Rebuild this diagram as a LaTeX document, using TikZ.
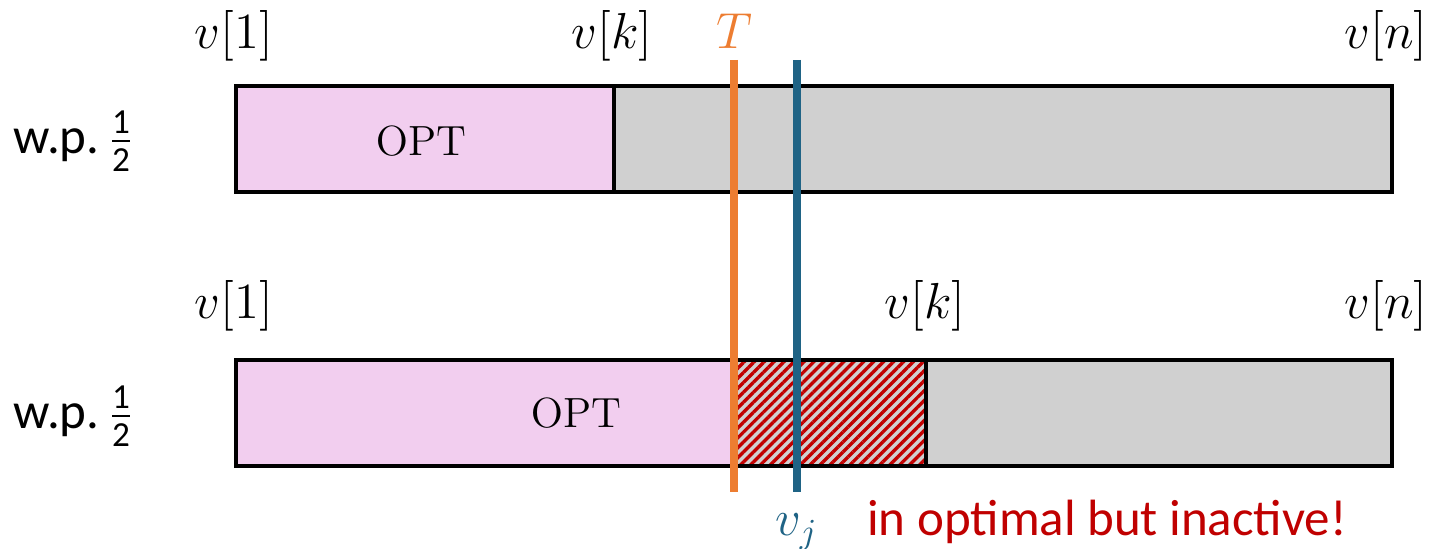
\documentclass[tikz,border=0pt]{standalone}
\usepackage[no-math]{fontspec}
\setmainfont{Carlito}
\usepackage{xcolor}
\usetikzlibrary{patterns.meta,positioning}
\definecolor{optpink}{HTML}{F2CEEF}
\definecolor{restgray}{HTML}{D0D0D0}
\definecolor{cutorange}{HTML}{ED7D31}
\definecolor{itemblue}{HTML}{1F6385}
\definecolor{warnred}{HTML}{C00000}
\newcommand{\half}{${\frac{\mbox{\fontsize{10}{10}\selectfont 1}}{\mbox{\fontsize{10}{10}\selectfont 2}}}$}

\begin{document}
\begin{tikzpicture}[
  x=0.01cm,y=-0.01cm,
  bar/.style={draw=black,line width=0.9pt},
  mark line/.style={line width=2pt},
  idx/.style={font=\fontsize{14}{16}\selectfont,inner sep=1pt},
  prob/.style={font=\fontsize{14.5}{17}\selectfont,inner sep=1pt},
  optlabel/.style={font=\fontsize{12}{14}\selectfont,inner sep=1pt}
]
  \useasboundingbox (0,0) rectangle (1437,549);

  % first case: k small
  \fill[restgray] (614,86) rectangle (1392,192);
  \draw[bar,fill=optpink] (236,86) rectangle (614,192);
  \draw[bar] (236,86) rectangle (1392,192);
  \node[optlabel] (opt1) at (421,141) {$\mathrm{OPT}$};

  % second case: k large, hatched part
  \fill[restgray] (735,360) rectangle (1392,466);
  \fill[optpink] (236,360) rectangle (735,466);
  \pattern[pattern={Lines[angle=45,distance=2pt,line width=0.95pt]},pattern color=warnred]
    (735,360) rectangle (926,466);
  \draw[bar] (926,360) -- (926,466);
  \draw[bar] (236,360) rectangle (1392,466);
  \node[optlabel] (opt2) at (576,413) {$\mathrm{OPT}$};

  % index labels
  \node[idx] (a1) at (234,36) {$v[1]$};
  \node[idx] (ak) at (612,36) {$v[k]$};
  \node[idx] (an) at (1386,36) {$v[n]$};
  \node[idx] (b1) at (234,306) {$v[1]$};
  \node[idx] (bk) at (925,306) {$v[k]$};
  \node[idx] (bn) at (1386,306) {$v[n]$};

  \node[prob] (p1) at (74,141) {w.p.\,\half};
  \node[prob] (p2) at (74,416) {w.p.\,\half};

  % threshold and item
  \coordinate (ttop) at (734,60);
  \coordinate (tbot) at (734,492);
  \coordinate (jtop) at (797,60);
  \coordinate (jbot) at (797,492);
  \draw[mark line,cutorange] (ttop) -- (tbot);
  \draw[mark line,itemblue] (jtop) -- (jbot);
  \node[idx,text=cutorange,above=2pt of ttop] (tl) {$T$};
  \node[idx,text=itemblue,below=5pt of jbot] (jl) {$v_j$};
  \node[font=\fontsize{14.5}{16}\selectfont,text=warnred,anchor=west,inner sep=1pt] (note) at (863,522) {in optimal but inactive!};
\end{tikzpicture}
\end{document}
